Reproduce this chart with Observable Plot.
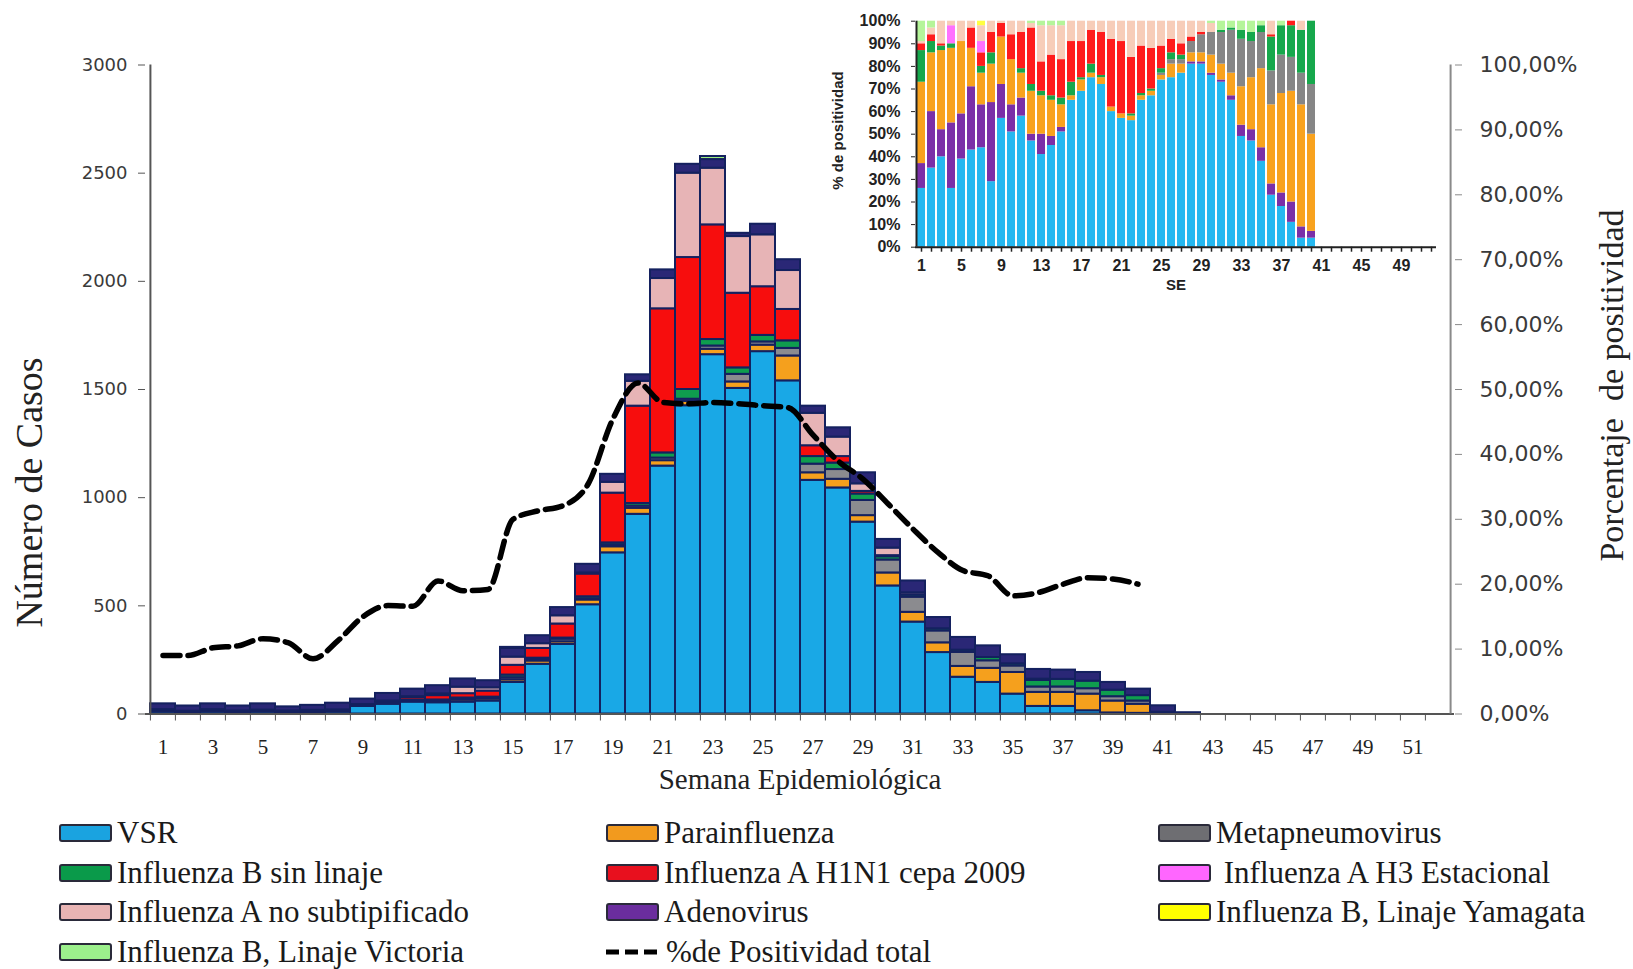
<!DOCTYPE html>
<html>
<head>
<meta charset="utf-8">
<script src="https://cdn.jsdelivr.net/npm/d3@7"></script>
<script src="https://cdn.jsdelivr.net/npm/@observablehq/plot@0.6"></script>
<style>
  body { margin: 0; background: #fff; }
  #wrap { position: relative; width: 1633px; height: 969px; overflow: hidden; background: #fff; }
  #main { position: absolute; left: 0; top: 0; }
  #inset { position: absolute; left: 820px; top: 0; }
  #legend { position: absolute; left: 0; top: 0; width: 1633px; height: 969px; pointer-events: none;
            font-family: "Liberation Serif", "Times New Roman", serif; font-size: 31px; color: #1a1a1a; }
  .item { position: absolute; display: flex; align-items: center; height: 34px; white-space: pre; }
  .sw { box-sizing: border-box; width: 53px; height: 18px; border: 2px solid #2a2a3a; border-radius: 3px; margin-right: 5px; }
</style>
</head>
<body>
<div id="wrap">
  <div id="main"></div>
  <div id="inset"></div>
  <div id="legend"></div>
</div>
<script>
// ---------- categories & labels ----------
const weeks = d3.range(1, 53);
const xLabelWeeks = [1, 3, 5, 7, 9, 11, 13, 15, 17, 19, 21, 23, 25, 27, 29, 31, 33, 35, 37, 39, 41, 43, 45, 47, 49, 51];
const caseTicks = [0, 500, 1000, 1500, 2000, 2500, 3000];
const pctTicks = [0, 10, 20, 30, 40, 50, 60, 70, 80, 90, 100];
const insetXLabels = [1, 5, 9, 13, 17, 21, 25, 29, 33, 37, 41, 45, 49];
const insetYTicks = [0, 10, 20, 30, 40, 50, 60, 70, 80, 90, 100];

const seriesNames = ["VSR", "Parainfluenza", "Metapneumovirus", "Influenza B sin linaje",
  "Influenza A H1N1 cepa 2009", "Influenza A H3 Estacional", "Influenza A no subtipificado",
  "Adenovirus", "Influenza B, Linaje Yamagata", "Influenza B, Linaje Victoria"];
const legendLabels = ["VSR", "Parainfluenza", "Metapneumovirus", "Influenza B sin linaje",
  "Influenza A H1N1 cepa 2009", " Influenza A H3 Estacional", "Influenza A no subtipificado",
  "Adenovirus", "Influenza B, Linaje Yamagata", "Influenza B, Linaje Victoria"];
const lineLabel = "%de Positividad total";

const mainColors   = ["#19a8e6", "#f5a01d", "#8b8b8f", "#0f9d4e", "#f70d0d", "#ff66ff", "#e7b4b6", "#2a2776", "#ffff00", "#a0f080"];
const legendColors = ["#1aa3e0", "#f29a1e", "#6e6e72", "#0a9a4a", "#e8101e", "#ff66ff", "#e8b4b4", "#6a2d9e", "#ffff00", "#9cf08c"];
const insetColors  = ["#25b8f0", "#f8a21e", "#868686", "#16a84c", "#ff1c1c", "#ff70ff", "#f7cdb9", "#7b2fa8", "#ffff40", "#b5f59a"];

// ---------- main chart: cases per week (weeks 1..42) ----------
const vsr    = [10, 8, 10, 6, 10, 8, 9, 10, 35, 45, 55, 52, 55, 60, 146, 230, 322, 505, 745, 923, 1146, 1425, 1661, 1505, 1675, 1540, 1080, 1045, 887, 592, 425, 284, 170, 146, 92, 35, 35, 15, 5, 3, 0, 0];
const para   = [8, 5, 8, 6, 8, 4, 4, 6, 3, 4, 5, 8, 10, 10, 12, 15, 12, 22, 28, 28, 25, 20, 25, 30, 30, 115, 35, 40, 30, 60, 45, 45, 50, 65, 100, 65, 65, 77, 55, 42, 3, 0];
const meta   = [0, 0, 0, 0, 0, 0, 0, 0, 0, 0, 3, 5, 6, 5, 10, 8, 12, 5, 8, 10, 12, 10, 15, 35, 15, 35, 40, 45, 70, 60, 70, 55, 65, 35, 30, 25, 25, 25, 20, 15, 2, 0];
const bsin   = [2, 0, 0, 0, 0, 0, 0, 0, 0, 0, 0, 0, 3, 3, 12, 5, 5, 10, 10, 12, 24, 45, 30, 30, 30, 35, 35, 30, 30, 15, 10, 10, 10, 15, 10, 30, 35, 35, 30, 25, 3, 0];
const h1n1   = [0, 0, 0, 0, 0, 2, 2, 3, 3, 6, 12, 20, 20, 28, 45, 45, 65, 105, 230, 450, 666, 610, 530, 345, 225, 145, 50, 30, 12, 5, 0, 0, 0, 0, 0, 0, 0, 0, 0, 0, 0, 0];
const h3     = [0, 0, 0, 2, 0, 0, 2, 0, 0, 0, 0, 0, 0, 0, 0, 0, 0, 0, 0, 0, 0, 0, 0, 0, 0, 0, 0, 0, 0, 0, 0, 0, 0, 0, 0, 0, 0, 0, 0, 0, 0, 0];
const aNoSub = [0, 0, 2, 0, 0, 0, 0, 0, 3, 5, 5, 8, 30, 15, 38, 22, 38, 5, 50, 115, 140, 390, 262, 262, 240, 180, 150, 90, 35, 35, 10, 0, 0, 0, 0, 6, 0, 0, 0, 0, 0, 0];
const adeno  = [27, 24, 27, 23, 29, 19, 23, 31, 25, 35, 35, 38, 38, 33, 40, 37, 38, 40, 37, 30, 40, 41, 40, 15, 49, 50, 33, 43, 51, 40, 55, 52, 59, 54, 42, 45, 43, 40, 36, 30, 30, 6];
const yamag  = [0, 0, 0, 0, 0, 0, 0, 0, 0, 0, 0, 0, 0, 0, 0, 0, 0, 0, 0, 0, 0, 0, 0, 0, 0, 0, 0, 0, 0, 0, 0, 0, 0, 0, 0, 0, 0, 0, 0, 0, 0, 0];
const victo  = [0, 0, 0, 0, 0, 0, 0, 0, 0, 0, 0, 0, 0, 0, 5, 0, 0, 0, 0, 0, 0, 0, 14, 0, 0, 0, 0, 0, 0, 0, 0, 0, 0, 0, 0, 0, 0, 0, 0, 0, 0, 0];

// % de positividad total (weeks 1..40)
const positividad = [9.0, 9.0, 10.2, 10.5, 11.6, 11.0, 8.5, 11.3, 15.0, 16.7, 16.6, 20.5, 19.0, 19.2, 30.0, 31.3, 32.1, 35.4, 45.5, 51.0,
  48.0, 47.8, 48.0, 47.8, 47.5, 47.2, 43.0, 39.0, 36.2, 32.4, 28.5, 24.9, 22.1, 21.3, 18.2, 18.7, 20.0, 21.0, 20.8, 20.0];

// ---------- inset: % share per week (weeks 1..40) ----------
const iVsr   = [26, 35, 40, 26, 39, 43, 44, 29, 57, 51, 58, 47, 41, 45, 51, 65, 69, 75, 72, 60, 57, 56, 65, 67, 74, 75, 77, 81, 81, 76, 73, 65, 49, 47, 38, 23, 18, 11, 4, 4];
const iAdeno = [11, 25, 12, 29, 20, 28, 19, 35, 15, 12, 8, 3, 9, 4, 2, 0, 0, 0, 0, 0, 0, 0, 0, 0, 0, 0, 0, 1, 1, 1, 1, 2, 5, 5, 6, 5, 6, 9, 5, 3];
const iPara  = [36, 26, 35, 33, 32, 17, 14, 17, 21, 20, 11, 19, 17, 16, 10, 2, 5, 2, 3, 2, 2, 2, 2, 2, 2, 6, 4, 4, 4, 8, 7, 10, 17, 23, 35, 35, 44, 49, 54, 43];
const iMeta  = [0, 0, 0, 0, 0, 0, 0, 0, 0, 0, 0, 0, 0, 0, 0, 0, 0, 0, 0, 0, 0, 0, 0, 0, 1, 2, 2, 5, 8, 10, 14, 19, 21, 16, 16, 15, 17, 15, 14, 22];
const iBsin  = [14, 5, 2, 2, 0, 0, 3, 5, 0, 0, 2, 3, 2, 2, 3, 6, 1, 4, 1, 0, 0, 1, 1, 1, 2, 3, 2, 0, 0, 0, 1, 1, 4, 4, 3, 15, 13, 14, 19, 28];
const iH1n1  = [3, 3, 1, 0, 0, 9, 6, 9, 6, 11, 16, 25, 13, 18, 17, 18, 16, 15, 19, 30, 32, 25, 21, 18, 10, 6, 5, 2, 1, 0, 0, 0, 0, 0, 0, 1, 0, 2, 0, 0];
const iH3    = [0, 0, 0, 8, 0, 0, 5, 0, 0, 0, 0, 0, 0, 0, 0, 0, 0, 0, 0, 0, 0, 0, 0, 0, 0, 0, 0, 0, 0, 0, 0, 0, 0, 0, 0, 0, 0, 0, 0, 0];
const iNoSub = [1, 3, 10, 2, 9, 3, 7, 5, 1, 6, 5, 2, 16, 13, 15, 9, 9, 4, 5, 8, 9, 16, 11, 12, 11, 8, 10, 7, 5, 4, 0, 0, 0, 0, 0, 6, 0, 0, 4, 0];
const iYamag = [0, 0, 0, 0, 0, 0, 2, 0, 0, 0, 0, 0, 0, 0, 0, 0, 0, 0, 0, 0, 0, 0, 0, 0, 0, 0, 0, 0, 0, 0, 0, 0, 0, 0, 0, 0, 0, 0, 0, 0];
const iVicto = [9, 3, 0, 0, 0, 0, 0, 0, 0, 0, 0, 1, 2, 2, 2, 0, 0, 0, 0, 0, 0, 0, 0, 0, 0, 0, 0, 0, 0, 1, 4, 3, 4, 5, 2, 0, 2, 0, 0, 0];

// ---------- tidy tables ----------
const mainSeries = [vsr, para, meta, bsin, h1n1, h3, aNoSub, adeno, yamag, victo];
const mainRows = [];
mainSeries.forEach((vals, s) => vals.forEach((v, i) => { if (v > 0) mainRows.push({week: i + 1, serie: seriesNames[s], value: v}); }));
const lineRows = positividad.map((p, i) => ({week: i + 1, pct: p}));

// inset stacking order (bottom -> top)
const insetOrder = ["VSR", "Adenovirus", "Parainfluenza", "Metapneumovirus", "Influenza B sin linaje",
  "Influenza A H1N1 cepa 2009", "Influenza A H3 Estacional", "Influenza A no subtipificado",
  "Influenza B, Linaje Yamagata", "Influenza B, Linaje Victoria"];
const insetSeries = {"VSR": iVsr, "Adenovirus": iAdeno, "Parainfluenza": iPara, "Metapneumovirus": iMeta,
  "Influenza B sin linaje": iBsin, "Influenza A H1N1 cepa 2009": iH1n1, "Influenza A H3 Estacional": iH3,
  "Influenza A no subtipificado": iNoSub, "Influenza B, Linaje Yamagata": iYamag, "Influenza B, Linaje Victoria": iVicto};
const insetRows = [];
insetOrder.forEach(name => insetSeries[name].forEach((v, i) => { if (v > 0) insetRows.push({week: i + 1, serie: name, value: v}); }));

// ---------- main plot ----------
const W = 1633, H = 810, mL = 145, mR = 179, mT = 64.5, mB = 96.5;
const bw = (W - mL - mR) / weeks.length;
const serif = "Liberation Serif";

const main = Plot.plot({
  width: W, height: H,
  marginLeft: mL, marginRight: mR, marginTop: mT, marginBottom: mB,
  style: {fontFamily: "DejaVu Sans", background: "transparent", color: "#3a3a3a", overflow: "visible"},
  x: {type: "band", domain: weeks, padding: 0},
  y: {domain: [0, 3000]},
  color: {domain: seriesNames, range: mainColors},
  marks: [
    Plot.barY(mainRows, {x: "week", y: "value", fill: "serie", order: seriesNames, stroke: "#14215f", strokeWidth: 2}),
    Plot.ruleY([0], {stroke: "#555", strokeWidth: 2}),
    Plot.ruleX([1], {dx: -bw / 2, stroke: "#555", strokeWidth: 2}),
    Plot.ruleX([52], {dx: bw / 2, stroke: "#8a8a8a", strokeWidth: 2}),
    Plot.axisY({ticks: caseTicks, tickFormat: d => String(d), tickSize: 7, tickPadding: 11, fontSize: 18, label: null, stroke: "#555"}),
    Plot.axisY({anchor: "right", ticks: pctTicks.map(p => p * 30), tickFormat: d => (d / 30).toFixed(2).replace(".", ",") + "%",
      tickSize: 7, tickPadding: 18, fontSize: 22, label: null, stroke: "#8a8a8a"}),
    Plot.axisX({ticks: weeks, tickSize: 7, fill: "none", dx: -bw / 2, stroke: "#555", label: null}),
    Plot.axisX({ticks: xLabelWeeks, tickSize: 0, tickPadding: 25, fontFamily: serif, fontSize: 21, fill: "#222", label: null}),
    Plot.line(lineRows, {x: "week", y: d => d.pct * 30, stroke: "#000", strokeWidth: 5.5, strokeDasharray: "17,8", curve: "monotone-x"}),
    Plot.text(["Semana Epidemiológica"], {frameAnchor: "bottom", dy: 74.5, text: d => d, fontFamily: serif, fontSize: 29, fill: "#222"}),
    Plot.text(["Número de Casos"], {frameAnchor: "left", textAnchor: "middle", dx: -116, dy: 103, rotate: -90, text: d => d, fontFamily: serif, fontSize: 38, fill: "#222"}),
    Plot.text(["Porcentaje  de positividad"], {frameAnchor: "right", textAnchor: "middle", dx: 158, dy: -4, rotate: -90, text: d => d, fontFamily: serif, fontSize: 34, fill: "#222"})
  ]
});
document.getElementById("main").appendChild(main);

// ---------- inset plot ----------
const iW = 630, iH = 300, iL = 95, iR = 14, iT = 20.7, iB = 53.3;
const iStep = (iW - iL - iR) / weeks.length;
const inset = Plot.plot({
  width: iW, height: iH,
  marginLeft: iL, marginRight: iR, marginTop: iT, marginBottom: iB,
  style: {fontFamily: "Liberation Sans", background: "transparent", color: "#222", overflow: "visible"},
  x: {type: "band", domain: weeks, paddingInner: 0.22, paddingOuter: 0.11},
  y: {domain: [0, 100]},
  color: {domain: insetOrder, range: insetOrder.map(n => insetColors[seriesNames.indexOf(n)])},
  marks: [
    Plot.barY(insetRows, {x: "week", y: "value", fill: "serie", order: insetOrder}),
    Plot.ruleY([0], {stroke: "#222", strokeWidth: 2}),
    Plot.ruleX([1], {dx: -iStep / 2, stroke: "#222", strokeWidth: 2}),
    Plot.axisY({ticks: insetYTicks, tickFormat: d => d + "%", tickSize: 4, tickPadding: 11, fontSize: 16, fontWeight: "bold", label: null}),
    Plot.axisX({ticks: weeks, tickSize: 5, fill: "none", label: null, strokeWidth: 1.5}),
    Plot.axisX({ticks: insetXLabels, tickSize: 0, tickPadding: 12, fontSize: 16, fontWeight: "bold", label: null}),
    Plot.text(["SE"], {frameAnchor: "bottom", dy: 42.8, text: d => d, fontSize: 15, fontWeight: "bold"}),
    Plot.text(["% de positividad"], {frameAnchor: "left", textAnchor: "middle", dx: -77, dy: -3.7, rotate: -90, text: d => d, fontSize: 15, fontWeight: "bold"})
  ]
});
document.getElementById("inset").appendChild(inset);

// ---------- legend (HTML) ----------
const legend = document.getElementById("legend");
const rowCenters = [833, 873, 912, 952];
const colLefts = [59, 606, 1158];
const items = legendLabels.map((l, i) => ({label: l, color: legendColors[i]}));
items.push({label: lineLabel, dash: true});
items.forEach((it, i) => {
  const row = Math.floor(i / 3), col = i % 3;
  const div = document.createElement("div");
  div.className = "item";
  div.style.left = colLefts[col] + "px";
  div.style.top = (rowCenters[row] - 17) + "px";
  if (it.dash) {
    const ns = "http://www.w3.org/2000/svg";
    const svg = document.createElementNS(ns, "svg");
    svg.setAttribute("width", 58); svg.setAttribute("height", 18);
    svg.style.marginRight = "2px";
    const ln = document.createElementNS(ns, "line");
    ln.setAttribute("x1", 0); ln.setAttribute("x2", 56); ln.setAttribute("y1", 9); ln.setAttribute("y2", 9);
    ln.setAttribute("stroke", "#000"); ln.setAttribute("stroke-width", 5); ln.setAttribute("stroke-dasharray", "13,6");
    svg.appendChild(ln);
    div.appendChild(svg);
  } else {
    const sw = document.createElement("div");
    sw.className = "sw";
    sw.style.background = it.color;
    div.appendChild(sw);
  }
  const span = document.createElement("span");
  span.textContent = it.label;
  div.appendChild(span);
  legend.appendChild(div);
});
</script>
</body>
</html>
